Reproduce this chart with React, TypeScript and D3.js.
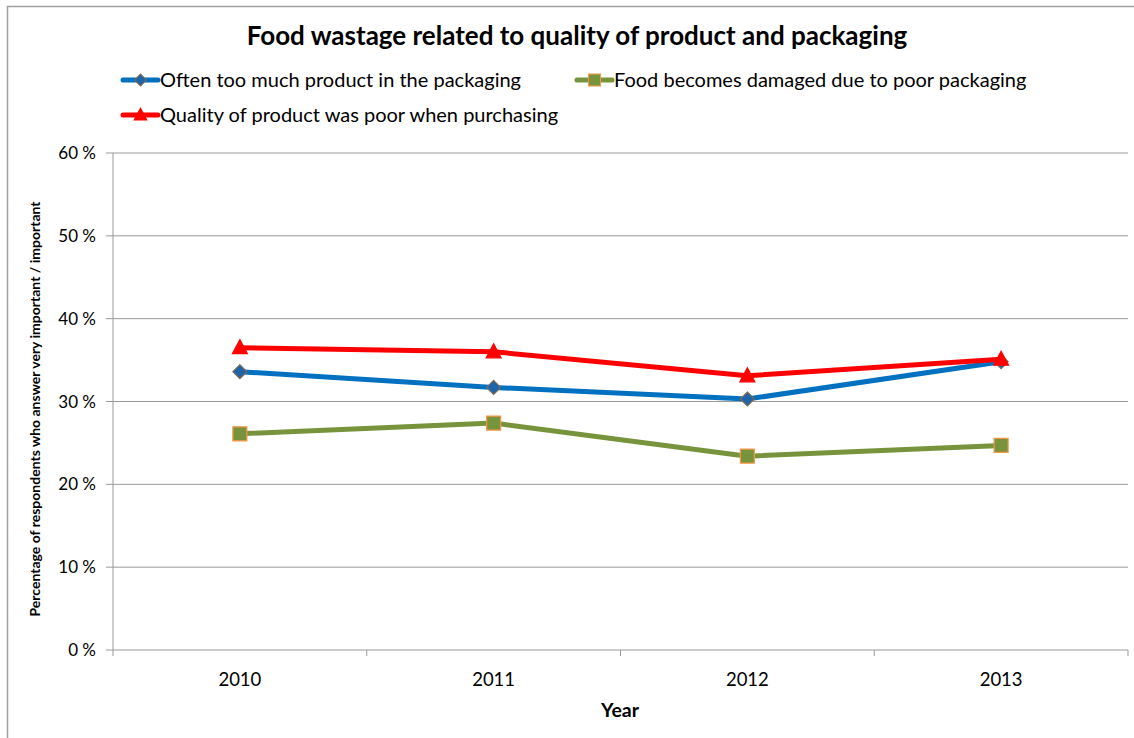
import React from "react";
import * as d3 from "d3";

const years = ["2010", "2011", "2012", "2013"];
const seriesNames = [
  "Often too much product in the packaging",
  "Food becomes damaged due to poor packaging",
  "Quality of product was poor when purchasing",
];
const tooMuchProduct = [0.336, 0.317, 0.303, 0.348];
const damagedPackaging = [0.261, 0.274, 0.234, 0.247];
const poorQuality = [0.365, 0.36, 0.331, 0.351];
const yTicks = [0, 0.1, 0.2, 0.3, 0.4, 0.5, 0.6];

const W = 1134;
const H = 738;
const FONT = "Lato, 'Open Sans', sans-serif";

const plot = { left: 113, right: 1128, top: 153, bottom: 650 };

type Marker = "diamond" | "square" | "triangle";
const series: { name: string; values: number[]; color: string; marker: Marker; mFill: string; mStroke: string }[] = [
  { name: seriesNames[0], values: tooMuchProduct, color: "#0070C0", marker: "diamond", mFill: "#1F64A8", mStroke: "#7F6A55" },
  { name: seriesNames[1], values: damagedPackaging, color: "#77933C", marker: "square", mFill: "#77933C", mStroke: "#F79646" },
  { name: seriesNames[2], values: poorQuality, color: "#FF0000", marker: "triangle", mFill: "#FF0000", mStroke: "#FF0000" },
];

function markerPath(m: Marker): string {
  if (m === "diamond") return "M0,-7L7,0L0,7L-7,0Z";
  if (m === "square") return "M-7,-7H7V7H-7Z";
  return "M0,-8L7.5,6H-7.5Z";
}

export default function App() {
  const x = d3.scaleBand<string>().domain(years).range([plot.left, plot.right]);
  const y = d3.scaleLinear().domain([0, 0.6]).range([plot.bottom, plot.top]);
  const cx = (yr: string) => (x(yr) ?? 0) + x.bandwidth() / 2;
  const line = d3
    .line<number>()
    .x((_, i) => cx(years[i]))
    .y((v) => y(v));
  const fmt = (v: number) => `${Math.round(v * 100)} %`;
  const boundaries = years.map((yr) => x(yr) ?? 0).concat([plot.right]);

  const legendItems = [
    { s: series[0], lx: 123, ly: 80 },
    { s: series[1], lx: 577, ly: 80 },
    { s: series[2], lx: 123, ly: 115 },
  ];

  return (
    <svg
      width={W}
      height={H}
      style={{ position: "absolute", left: 0, top: 0, background: "#fff" }}
      fontFamily={FONT}
    >
      <rect x={0} y={0} width={W} height={H} fill="#fff" />
      {/* outer border */}
      <path d={`M7.5,${H}V6.5H${W}`} fill="none" stroke="#A0A0A0" strokeWidth={1.5} />
      {/* title */}
      <text x={577} y={45} textAnchor="middle" fontSize={26} fontWeight="bold" fill="#000">
        Food wastage related to quality of product and packaging
      </text>
      {/* legend */}
      {legendItems.map(({ s, lx, ly }) => (
        <g key={s.name}>
          <line x1={lx} x2={lx + 35} y1={ly} y2={ly} stroke={s.color} strokeWidth={5} strokeLinecap="round" />
          <path
            d={markerPath(s.marker)}
            transform={`translate(${lx + 17.5},${ly}) scale(0.85)`}
            fill={s.mFill}
            stroke={s.mStroke}
            strokeWidth={1.2}
          />
          <text x={lx + 37} y={ly + 7} fontSize={20} fill="#000">
            {s.name}
          </text>
        </g>
      ))}
      {/* gridlines */}
      {yTicks.map((t) => (
        <g key={t}>
          {t > 0 && (
            <line x1={plot.left} x2={plot.right} y1={y(t)} y2={y(t)} stroke="#9A9A9A" strokeWidth={1} />
          )}
          <line x1={106} x2={plot.left} y1={y(t)} y2={y(t)} stroke="#9A9A9A" strokeWidth={1} />
          <text x={96} y={y(t) + 6} textAnchor="end" fontSize={17} fill="#000">
            {fmt(t)}
          </text>
        </g>
      ))}
      {/* axes */}
      <line x1={plot.left} x2={plot.left} y1={plot.top} y2={plot.bottom} stroke="#9A9A9A" strokeWidth={1} />
      <line x1={plot.left} x2={plot.right} y1={plot.bottom} y2={plot.bottom} stroke="#9A9A9A" strokeWidth={1} />
      {boundaries.map((b, i) => (
        <line key={i} x1={b} x2={b} y1={plot.bottom} y2={plot.bottom + 6} stroke="#9A9A9A" strokeWidth={1} />
      ))}
      {years.map((yr) => (
        <text key={yr} x={cx(yr)} y={686} textAnchor="middle" fontSize={18.5} fill="#000">
          {yr}
        </text>
      ))}
      <text x={620} y={717} textAnchor="middle" fontSize={19.5} fontWeight="bold" fill="#000">
        Year
      </text>
      <text
        transform={`translate(40,409) rotate(-90)`}
        textAnchor="middle"
        fontSize={14}
        fontWeight="bold"
        fill="#000"
      >
        Percentage of respondents who answer very important / important
      </text>
      {/* series */}
      {series.map((s) => (
        <g key={s.name}>
          <path d={line(s.values) ?? ""} fill="none" stroke={s.color} strokeWidth={5} strokeLinejoin="round" />
          {s.values.map((v, i) => (
            <path
              key={i}
              d={markerPath(s.marker)}
              transform={`translate(${cx(years[i])},${y(v)})`}
              fill={s.mFill}
              stroke={s.mStroke}
              strokeWidth={1.2}
            />
          ))}
        </g>
      ))}
    </svg>
  );
}
